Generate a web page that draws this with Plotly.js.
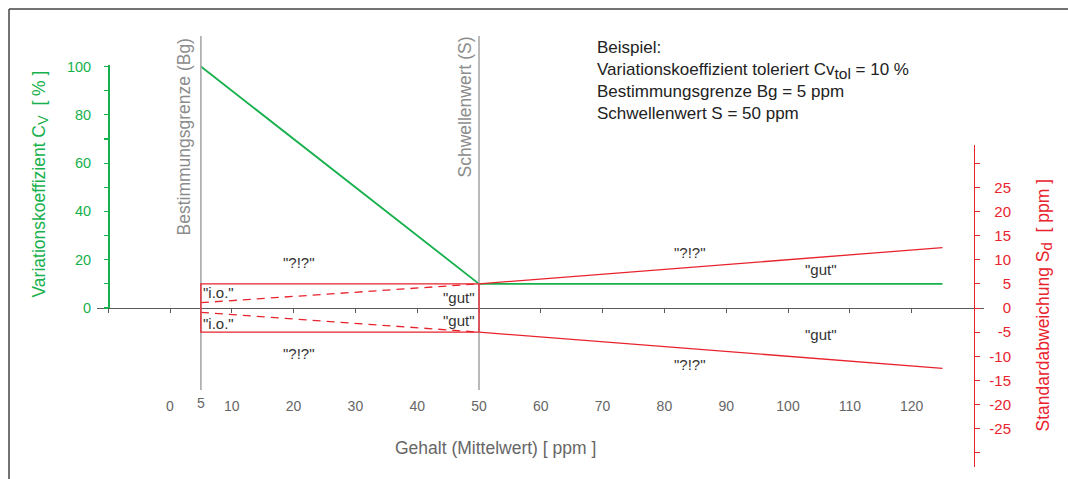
<!DOCTYPE html>
<html>
<head>
<meta charset="utf-8">
<script src="https://cdn.plot.ly/plotly-3.0.1.min.js"></script>
<style>
  html, body { margin: 0; padding: 0; background: #fff; }
  #chart { width: 1068px; height: 479px; }
</style>
</head>
<body>
<div id="chart"></div>
<script>
// Example values
const Bg = 5;          // Bestimmungsgrenze [ppm]
const S = 50;          // Schwellenwert [ppm]
const CvTol = 10;      // tolerierter Variationskoeffizient [%]

// Variationskoeffizient Cv [%] over Gehalt
const cvGehalt = [5, 50, 125];
const cvWerte = [100, 10, 10];

// Standardabweichung Sd [ppm] above the Schwellenwert
const sdGehalt = [50, 125];
const sdOben = [5, 12.5];
const sdUnten = [-5, -12.5];

// Standardabweichung Sd [ppm] between Bg and S (dashed)
const sdBereichGehalt = [5, 50];
const sdBereichOben = [1.1, 5];
const sdBereichUnten = [-0.9, -5];

// Axis ticks
const gehaltTicks = [0, 10, 20, 30, 40, 50, 60, 70, 80, 90, 100, 110, 120];
const gehaltMarks = [-10, 0, 10, 20, 30, 40, 50, 60, 70, 80, 90, 100, 110, 120];
const cvTicks = [0, 20, 40, 60, 80, 100];
const cvMinorTicks = [10, 30, 50, 70, 90];
const sdMarks = [-30, -25, -20, -15, -10, -5, 0, 5, 10, 15, 20, 25, 30];
const sdTicks = [-25, -20, -15, -10, -5, 0, 5, 10, 15, 20, 25];

const W = 1068, H = 479;
const px = v => v / W;          // pixel -> paper x
const py = v => 1 - v / H;      // pixel -> paper y

const GREEN = '#16b04c';
const RED = '#e8232d';
const GREY = '#a9a9a9';
const TXT = '#333333';
const FONT = '"Liberation Sans", Arial, sans-serif';
const NB = '\u00a0';

// subscript kept close to the body size
const sub = (t, size) => '<sub><span style="font-size:' + size + 'px">' + t + '</span></sub>';

// Gehalt scale: 0 ppm at 170 px, 6.18 px per ppm
const xAt = p => (p - 170) / 6.18;
const xRange = [xAt(97), xAt(984)];
// Cv scale: 0 % at 308 px, 2.415 px per %
const cvRange = [0, (308 - 65) / 2.415];
// Sd scale: 0 ppm at 308 px, 4.83 px per ppm
const sdRange = [-(467 - 308) / 4.83, (308 - 145) / 4.83];

const traces = [
  { x: cvGehalt, y: cvWerte, xaxis: 'x', yaxis: 'y', mode: 'lines',
    line: { color: GREEN, width: 1.8 }, hoverinfo: 'skip' },
  { x: sdGehalt, y: sdOben, xaxis: 'x', yaxis: 'y2', mode: 'lines',
    line: { color: RED, width: 1.3 }, hoverinfo: 'skip' },
  { x: sdGehalt, y: sdUnten, xaxis: 'x', yaxis: 'y2', mode: 'lines',
    line: { color: RED, width: 1.3 }, hoverinfo: 'skip' },
  { x: sdBereichGehalt, y: sdBereichOben, xaxis: 'x', yaxis: 'y2', mode: 'lines',
    line: { color: RED, width: 1.3, dash: '8px,6px' }, hoverinfo: 'skip' },
  { x: sdBereichGehalt, y: sdBereichUnten, xaxis: 'x', yaxis: 'y2', mode: 'lines',
    line: { color: RED, width: 1.3, dash: '8px,6px' }, hoverinfo: 'skip' },
  // empty traces so the label-only axes get their subplots
  { x: [], y: [], xaxis: 'x2', yaxis: 'y', hoverinfo: 'skip' },
  { x: [], y: [], xaxis: 'x3', yaxis: 'y', hoverinfo: 'skip' },
  { x: [], y: [], xaxis: 'x', yaxis: 'y3', hoverinfo: 'skip' }
];

const shapes = [
  // frame
  { type: 'line', xref: 'paper', yref: 'paper', x0: px(9), y0: 0, x1: px(9), y1: py(9),
    line: { color: '#444', width: 1.5 } },
  { type: 'line', xref: 'paper', yref: 'paper', x0: px(9), y0: py(9), x1: 1, y1: py(9),
    line: { color: '#444', width: 1.5 } },
  // Bestimmungsgrenze and Schwellenwert
  { type: 'line', xref: 'x', yref: 'paper', x0: Bg, x1: Bg, y0: py(390), y1: py(36),
    line: { color: GREY, width: 1.6 } },
  { type: 'line', xref: 'x', yref: 'paper', x0: S, x1: S, y0: py(390), y1: py(36),
    line: { color: GREY, width: 1.6 } },
  // tolerated range between Bg and S
  { type: 'rect', xref: 'x', yref: 'y2', x0: Bg, x1: S,
    y0: -S * CvTol / 100, y1: S * CvTol / 100,
    line: { color: RED, width: 1.3 }, fillcolor: 'rgba(0,0,0,0)' }
];

const lbl = (text, x, y) => ({
  text, x, y, xref: 'x', yref: 'y2', showarrow: false,
  font: { family: FONT, size: 15, color: TXT }
});

const annotations = [
  lbl('"?!?"', 20.9, 9.4),
  lbl('"?!?"', 20.9, -9.5),
  lbl('"i.o."', 7.85, 3.2),
  lbl('"i.o."', 7.85, -3.3),
  lbl('"gut"', 46.8, 2.1),
  lbl('"gut"', 46.8, -2.5),
  lbl('"?!?"', 84.2, 11.45),
  lbl('"?!?"', 84.2, -11.8),
  lbl('"gut"', 105.4, 8.0),
  lbl('"gut"', 105.4, -5.4),
  { text: 'Bestimmungsgrenze (Bg)', x: xAt(183), y: py(37), xref: 'x', yref: 'paper',
    xanchor: 'center', yanchor: 'top', textangle: -90, showarrow: false,
    font: { family: FONT, size: 17.5, color: '#8c8c8c' } },
  { text: 'Schwellenwert (S)', x: xAt(465), y: py(35), xref: 'x', yref: 'paper',
    xanchor: 'center', yanchor: 'top', textangle: -90, showarrow: false,
    font: { family: FONT, size: 17.5, color: '#8c8c8c' } },
  { text: 'Beispiel:<br>Variationskoeffizient toleriert Cv' + sub('tol', 15.5) + ' = ' + CvTol + ' %<br>' +
          'Bestimmungsgrenze Bg = ' + Bg + ' ppm<br>Schwellenwert S = ' + S + ' ppm',
    x: px(595), y: py(36), xref: 'paper', yref: 'paper', xanchor: 'left', yanchor: 'top',
    align: 'left', showarrow: false,
    font: { family: FONT, size: 17, color: '#222' } },
  // axis titles
  { text: 'Variationskoeffizient C' + sub('V', 14.5) + NB + NB + '[ % ]', x: px(26), y: py(184),
    xref: 'paper', yref: 'paper', textangle: -90, showarrow: false,
    font: { family: FONT, size: 17.5, color: GREEN } },
  { text: 'Standardabweichung S' + sub('d', 15) + NB + NB + '[ ppm ]', x: px(1057), y: py(305),
    xref: 'paper', yref: 'paper', textangle: -90, showarrow: false,
    font: { family: FONT, size: 17.5, color: RED } },
  { text: 'Gehalt (Mittelwert) [ ppm ]', x: px(495), y: py(460),
    xref: 'paper', yref: 'paper', showarrow: false,
    font: { family: FONT, size: 17.5, color: '#666' } }
];

const layout = {
  width: W, height: H,
  margin: { l: 0, r: 0, t: 0, b: 0, pad: 0 },
  paper_bgcolor: '#fff', plot_bgcolor: 'rgba(0,0,0,0)',
  showlegend: false, hovermode: false,
  font: { family: FONT },
  xaxis: {
    domain: [px(97), px(984)], range: xRange, anchor: 'free', position: py(308),
    showline: true, linecolor: '#5a5a5a', linewidth: 1.3,
    ticks: 'outside', ticklen: 4, tickcolor: '#5a5a5a', tickwidth: 1,
    tickmode: 'array', tickvals: gehaltMarks, showticklabels: false,
    showgrid: false, zeroline: false, fixedrange: true
  },
  xaxis2: {
    domain: [px(97), px(984)], range: xRange, overlaying: 'x', anchor: 'free', position: py(396),
    showline: false, ticks: '', tickmode: 'array', tickvals: gehaltTicks,
    ticktext: gehaltTicks.map(String),
    tickfont: { family: FONT, size: 14, color: '#666' },
    showgrid: false, zeroline: false, fixedrange: true
  },
  xaxis3: {
    domain: [px(97), px(984)], range: xRange, overlaying: 'x', anchor: 'free', position: py(393),
    showline: false, ticks: '', tickmode: 'array', tickvals: [Bg], ticktext: [String(Bg)],
    tickfont: { family: FONT, size: 14, color: '#666' },
    showgrid: false, zeroline: false, fixedrange: true
  },
  yaxis: {
    domain: [py(308), py(65)], range: cvRange, anchor: 'free', position: px(108), side: 'left',
    showline: true, linecolor: GREEN, linewidth: 1.5,
    ticks: 'outside', ticklen: 4, tickcolor: GREEN, tickwidth: 1.2,
    tickmode: 'array', tickvals: cvTicks, ticktext: cvTicks.map(String),
    minor: { tickmode: 'array', tickvals: cvMinorTicks, ticks: 'outside', ticklen: 4,
             tickcolor: GREEN, tickwidth: 1.2, showgrid: false },
    ticklabelstandoff: 10,
    tickfont: { family: FONT, size: 14.5, color: GREEN },
    showgrid: false, zeroline: false, fixedrange: true
  },
  yaxis2: {
    domain: [py(467), py(145)], range: sdRange, anchor: 'free', position: px(974), side: 'right',
    showline: true, linecolor: RED, linewidth: 1.3,
    ticks: 'outside', ticklen: 5, tickcolor: RED, tickwidth: 1,
    tickmode: 'array', tickvals: sdMarks, showticklabels: false,
    showgrid: false, zeroline: false, fixedrange: true
  },
  yaxis3: {
    range: sdRange, overlaying: 'y2', anchor: 'free', position: px(1011), side: 'left',
    showline: false, ticks: '', tickmode: 'array', tickvals: sdTicks,
    ticktext: sdTicks.map(String),
    tickfont: { family: FONT, size: 15, color: RED },
    showgrid: false, zeroline: false, fixedrange: true
  },
  shapes, annotations
};

Plotly.newPlot('chart', traces, layout, { displayModeBar: false, staticPlot: true });
</script>
</body>
</html>
